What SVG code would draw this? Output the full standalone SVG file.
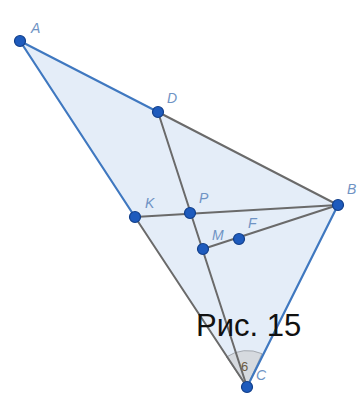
<svg xmlns="http://www.w3.org/2000/svg" width="360" height="405" viewBox="0 0 360 405">
<style>
.blue{stroke:#3f78c0;stroke-width:2.2;fill:none;stroke-linecap:round}
.gray{stroke:#6a6a6a;stroke-width:2;fill:none;stroke-linecap:round}
.pt{fill:#1e5bbd;stroke:#123f8a;stroke-width:1.2}
.lbl{font-family:"Liberation Sans",Arial,sans-serif;font-style:italic;font-size:14px;fill:#6f93c4}
</style>
<rect width="360" height="405" fill="#ffffff"/>
<polygon points="20,41 338,205 247,387" fill="#e4edf8"/>
<path d="M247,387 L226.5,357 A36.5,36.5 0 0 1 262,353.7 Z" fill="#d3d6db" fill-opacity="0.85" stroke="#a4a9b0" stroke-width="1"/>
<g id="connectors">
<line class="blue" x1="20" y1="41" x2="158" y2="112"/>
<line class="gray" x1="158" y1="112" x2="338" y2="205"/>
<line class="blue" x1="20" y1="41" x2="135" y2="217"/>
<line class="gray" x1="135" y1="217" x2="247" y2="387"/>
<line class="blue" x1="338" y1="205" x2="247" y2="387"/>
<line class="gray" x1="158" y1="112" x2="247" y2="387"/>
<line class="gray" x1="135" y1="217" x2="338" y2="205"/>
<line class="gray" x1="203" y1="249" x2="338" y2="205"/>
</g>
<g id="A"><circle class="pt" cx="20" cy="41" r="5.5"/><text class="lbl" x="31" y="33">A</text></g>
<g id="D"><circle class="pt" cx="158" cy="112" r="5.5"/><text class="lbl" x="167" y="103">D</text></g>
<g id="B"><circle class="pt" cx="338" cy="205" r="5.5"/><text class="lbl" x="347" y="194">B</text></g>
<g id="K"><circle class="pt" cx="135" cy="217" r="5.5"/><text class="lbl" x="145" y="208">K</text></g>
<g id="P"><circle class="pt" cx="190" cy="213" r="5.5"/><text class="lbl" x="199" y="203">P</text></g>
<g id="M"><circle class="pt" cx="203" cy="249" r="5.5"/><text class="lbl" x="212" y="240">M</text></g>
<g id="F"><circle class="pt" cx="239" cy="239" r="5.5"/><text class="lbl" x="248" y="228">F</text></g>
<g id="C"><circle class="pt" cx="247" cy="387" r="5.5"/><text class="lbl" x="256" y="380" font-style="normal">C</text></g>
<text x="241" y="371" font-family="Liberation Sans,Arial,sans-serif" font-size="13" fill="#6b5a45">6</text>
<text x="196" y="336" font-family="Liberation Sans,Arial,sans-serif" font-size="31" fill="#111">Рис. 15</text>
</svg>
